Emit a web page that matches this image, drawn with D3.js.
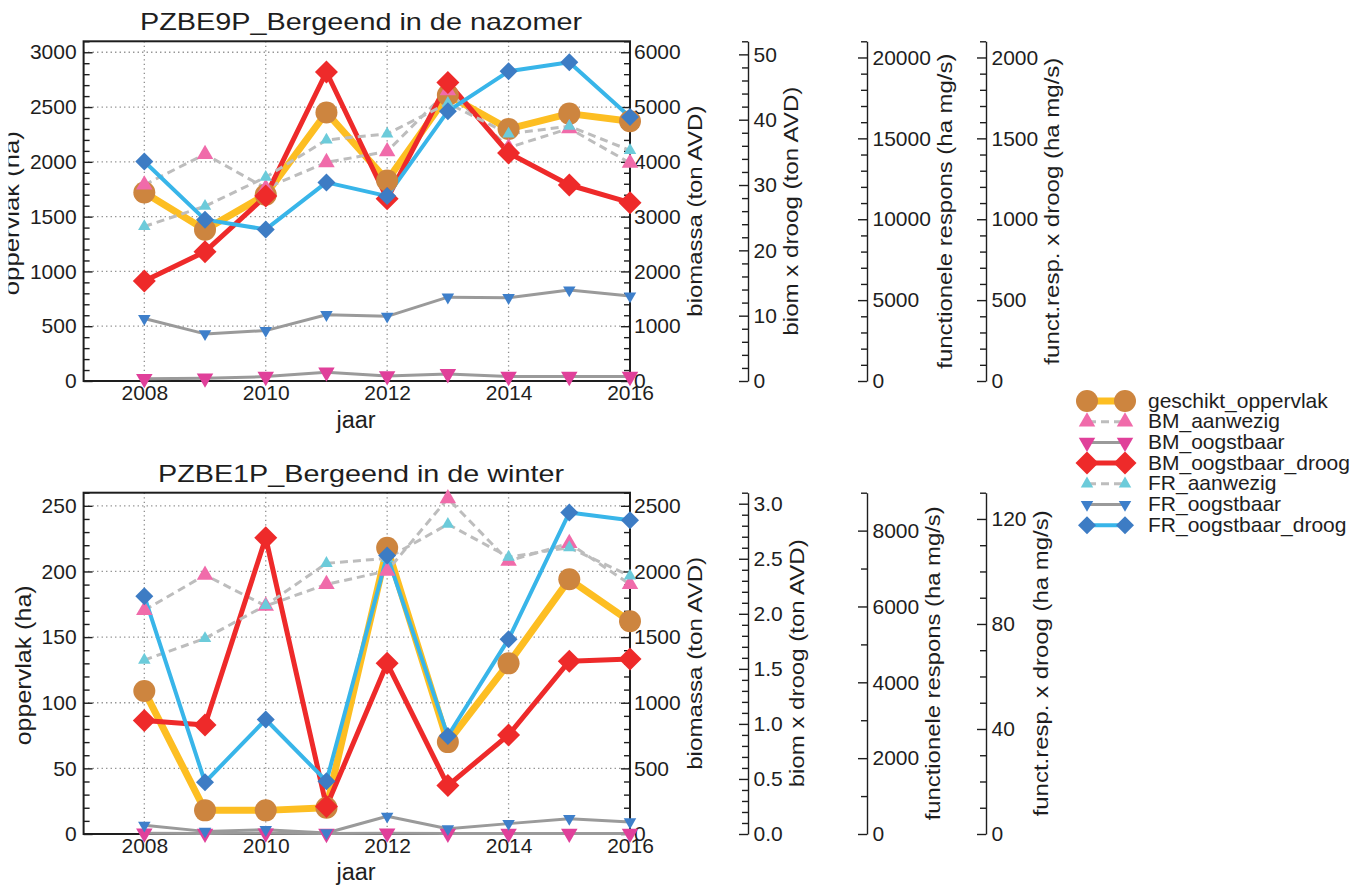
<!DOCTYPE html>
<html>
<head>
<meta charset="utf-8">
<script src="https://cdn.jsdelivr.net/npm/d3@7"></script>
<style>
  html, body { margin: 0; padding: 0; background: #ffffff; }
  svg { display: block; }
</style>
</head>
<body>
<svg id="chart" width="1363" height="888"></svg>
<script>
// ---- data ---------------------------------------------------------------
const years = [2008, 2009, 2010, 2011, 2012, 2013, 2014, 2015, 2016];
const xTicks = [2008, 2010, 2012, 2014, 2016];
const seriesNames = ["geschikt_oppervlak", "BM_aanwezig", "BM_oogstbaar", "BM_oogstbaar_droog",
                     "FR_aanwezig", "FR_oogstbaar", "FR_oogstbaar_droog"];
// which y axis each series belongs to (0 = oppervlak, 1 = biomassa, 2 = biom x droog)
const seriesAxis = [0, 1, 1, 2, 1, 1, 2];
const panelTitles = ["PZBE9P_Bergeend in de nazomer", "PZBE1P_Bergeend in de winter"];
const axisTitles = ["oppervlak (ha)", "biomassa (ton AVD)", "biom x droog (ton AVD)",
                    "functionele respons (ha mg/s)", "funct.resp. x droog (ha mg/s)"];

// nazomer (late summer)
const nazomerGeschikt     = [1720, 1380, 1700, 2450, 1830, 2610, 2300, 2440, 2370];   // ha
const nazomerBMAanwezig   = [3580, 4140, 3520, 3990, 4190, 5300, 4260, 4610, 3980];   // ton AVD
const nazomerBMOogstbaar  = [40, 50, 80, 160, 90, 130, 80, 80, 80];                    // ton AVD
const nazomerBMDroog      = [15.3, 19.8, 28.3, 47.3, 27.9, 45.7, 34.9, 30.0, 27.3];    // ton AVD x droog
const nazomerFRAanwezig   = [2820, 3190, 3720, 4400, 4510, 5070, 4510, 4650, 4210];
const nazomerFROogstbaar  = [1140, 860, 920, 1210, 1180, 1530, 1520, 1660, 1550];
const nazomerFRDroog      = [33.6, 24.7, 23.2, 30.4, 28.3, 41.3, 47.4, 48.8, 40.4];
const nazomerAxisMax      = [3100, 6200, 52, 21000, 2100];
const nazomerMajorStep    = [500, 1000, 10, 5000, 500];
const nazomerMinorStep    = [100, 200, 2, 1000, 100];
const nazomerFormats      = ["d", "d", "d", "d", "d"];

// winter
const winterGeschikt      = [109, 18, 18, 20, 218, 70, 130, 194, 162];
const winterBMAanwezig    = [1704, 1973, 1737, 1902, 2004, 2556, 2080, 2215, 1902];
const winterBMOogstbaar   = [5, 4, 5, 3, 5, 4, 4, 4, 4];
const winterBMDroog       = [1.03, 0.99, 2.69, 0.25, 1.55, 0.44, 0.90, 1.57, 1.59];
const winterFRAanwezig    = [1325, 1490, 1742, 2062, 2100, 2360, 2110, 2182, 1966];
const winterFROogstbaar   = [66, 20, 33, 8, 135, 40, 79, 117, 92];
const winterFRDroog       = [2.16, 0.47, 1.04, 0.48, 2.53, 0.89, 1.77, 2.92, 2.85];
const winterAxisMax       = [260, 2600, 3.1, 9000, 130];
const winterMajorStep     = [50, 500, 0.5, 2000, 40];
const winterMinorStep     = [10, 100, 0.1, 1000, 10];
const winterFormats       = ["d", "d", ".1f", "d", "d"];

// ---- styling ------------------------------------------------------------
const FONT = '"Liberation Sans", Arial, Helvetica, sans-serif';
const INK = "#1e1e1e";
const styles = {
  geschikt_oppervlak: { line: "#FDBE22", width: 7,   dash: null,  shape: "circle",  fill: "#CD853F", size: 11 },
  BM_aanwezig:        { line: "#BDBDBD", width: 3,   dash: "8,5", shape: "triUp",   fill: "#F06BAA", size: 16.5 },
  BM_oogstbaar:       { line: "#9A9A9A", width: 3,   dash: null,  shape: "triDown", fill: "#E0409A", size: 16.5 },
  BM_oogstbaar_droog: { line: "#EE2A2A", width: 5,   dash: null,  shape: "diamond", fill: "#EE2A2A", size: 11.5 },
  FR_aanwezig:        { line: "#BDBDBD", width: 3,   dash: "8,5", shape: "triUp",   fill: "#6CCBDA", size: 12.5 },
  FR_oogstbaar:       { line: "#9A9A9A", width: 3,   dash: null,  shape: "triDown", fill: "#3E7FCA", size: 12.5 },
  FR_oogstbaar_droog: { line: "#38B5E9", width: 4,   dash: null,  shape: "diamond", fill: "#3D7CC4", size: 9 }
};

function markerPath(st) {
  if (st.shape === "circle") return d3.symbol(d3.symbolCircle, Math.PI * st.size * st.size)();
  if (st.shape === "diamond") return d3.symbol(d3.symbolSquare, 2 * st.size * st.size)();
  return d3.symbol(d3.symbolTriangle, Math.sqrt(3) / 4 * st.size * st.size)();
}
function markerRot(st) {
  return st.shape === "diamond" ? 45 : (st.shape === "triDown" ? 180 : 0);
}

// ---- layout ---------------------------------------------------------------
const X0 = 83.6, X1 = 630;
const extraAxisX = [748, 867, 986];
const x = d3.scaleLinear().domain([2007, 2016]).range([X0, X1]);

const panels = [
  {
    title: panelTitles[0], top: 41.3, bottom: 381, titleBase: 30, titleLen: 442, jaarBase: 428,
    series: [nazomerGeschikt, nazomerBMAanwezig, nazomerBMOogstbaar, nazomerBMDroog,
             nazomerFRAanwezig, nazomerFROogstbaar, nazomerFRDroog],
    max: nazomerAxisMax, major: nazomerMajorStep, minor: nazomerMinorStep, formats: nazomerFormats,
    titleLens: [164, 211, 249, 315, 307], clipLeft: true
  },
  {
    title: panelTitles[1], top: 492.7, bottom: 834, titleBase: 481.7, titleLen: 406, jaarBase: 880,
    series: [winterGeschikt, winterBMAanwezig, winterBMOogstbaar, winterBMDroog,
             winterFRAanwezig, winterFROogstbaar, winterFRDroog],
    max: winterAxisMax, major: winterMajorStep, minor: winterMinorStep, formats: winterFormats,
    titleLens: [160, 213, 248, 314, 306], clipLeft: false
  }
];

const svg = d3.select("#chart");
svg.append("defs").append("clipPath").attr("id", "leftEdge")
  .append("rect").attr("x", 8.5).attr("y", 0).attr("width", 1400).attr("height", 900);

function tickList(max, step) {
  const n = Math.floor(max / step + 1e-6);
  return d3.range(0, n + 1).map(i => +(i * step).toFixed(6));
}
function minorList(max, step, major) {
  return tickList(max, step).filter(v => Math.abs(v / major - Math.round(v / major)) > 1e-6);
}
function styleAxis(sel, w) {
  sel.attr("font-size", 21).attr("font-family", FONT).attr("color", INK);
  sel.selectAll("line").attr("stroke-width", w);
  sel.selectAll("path.domain").attr("stroke-width", w);
}
// horizontal extent of an axis' tick labels, in page coordinates
function labelExtent(axisG, originX) {
  const boxes = axisG.selectAll("text").nodes().map(n => n.getBBox());
  return [originX + d3.min(boxes, b => b.x), originX + d3.max(boxes, b => b.x + b.width)];
}

panels.forEach(p => {
  const g = svg.append("g");
  const scales = p.max.map(m => d3.scaleLinear().domain([0, m]).range([p.bottom, p.top]));
  const yL = scales[0];
  const midY = (p.top + p.bottom) / 2;

  // dotted grid
  const grid = g.append("g").attr("stroke", "#8c8c8c").attr("stroke-width", 1.3)
    .attr("stroke-dasharray", "1.3,3.2");
  grid.selectAll("line.h").data(tickList(p.max[0], p.major[0]).filter(v => v > 0)).join("line")
    .attr("class", "h").attr("x1", X0).attr("x2", X1)
    .attr("y1", d => yL(d)).attr("y2", d => yL(d));
  grid.selectAll("line.v").data(xTicks).join("line")
    .attr("class", "v").attr("x1", d => x(d)).attr("x2", d => x(d))
    .attr("y1", p.top).attr("y2", p.bottom);

  // frame
  g.append("rect").attr("x", X0).attr("y", p.top).attr("width", X1 - X0).attr("height", p.bottom - p.top)
    .attr("fill", "none").attr("stroke", INK).attr("stroke-width", 2);

  // left axis (ticks point inward)
  const leftG = g.append("g").attr("transform", `translate(${X0},0)`)
    .call(d3.axisLeft(yL).tickValues(tickList(p.max[0], p.major[0])).tickSizeInner(-9).tickSizeOuter(0)
      .tickPadding(7).tickFormat(d3.format(p.formats[0])));
  leftG.select(".domain").remove();
  styleAxis(leftG, 1.4);
  const leftMinor = g.append("g").attr("transform", `translate(${X0},0)`)
    .call(d3.axisLeft(yL).tickValues(minorList(p.max[0], p.minor[0], p.major[0])).tickSizeInner(-6)
      .tickSizeOuter(0).tickFormat(""));
  leftMinor.select(".domain").remove();
  styleAxis(leftMinor, 1.4);

  // right axis of the frame: biomassa
  const yR = scales[1];
  const rightG = g.append("g").attr("transform", `translate(${X1},0)`)
    .call(d3.axisRight(yR).tickValues(tickList(p.max[1], p.major[1])).tickSizeInner(-9).tickSizeOuter(0)
      .tickPadding(4).tickFormat(d3.format(p.formats[1])));
  rightG.select(".domain").remove();
  styleAxis(rightG, 1.4);
  const rightMinor = g.append("g").attr("transform", `translate(${X1},0)`)
    .call(d3.axisRight(yR).tickValues(minorList(p.max[1], p.minor[1], p.major[1])).tickSizeInner(-6)
      .tickSizeOuter(0).tickFormat(""));
  rightMinor.select(".domain").remove();
  styleAxis(rightMinor, 1.4);

  // bottom year labels
  const xG = g.append("g").attr("transform", `translate(0,${p.bottom})`)
    .call(d3.axisBottom(x).tickValues(xTicks).tickSize(0).tickPadding(4.5).tickFormat(d3.format("d")));
  xG.select(".domain").remove();
  styleAxis(xG, 0);

  // extra stand-alone axes
  const axisGroups = [{ g: rightG, x: X1 }];
  [2, 3, 4].forEach((k, j) => {
    const ax = extraAxisX[j];
    const a = g.append("g").attr("transform", `translate(${ax},0)`)
      .call(d3.axisRight(scales[k]).tickValues(tickList(p.max[k], p.major[k])).tickSizeInner(-9)
        .tickSizeOuter(0).tickPadding(5.5).tickFormat(d3.format(p.formats[k])));
    styleAxis(a, 1.4);
    const m = g.append("g").attr("transform", `translate(${ax},0)`)
      .call(d3.axisRight(scales[k]).tickValues(minorList(p.max[k], p.minor[k], p.major[k])).tickSizeInner(-6)
        .tickSizeOuter(0).tickFormat(""));
    m.select(".domain").remove();
    styleAxis(m, 1.4);
    axisGroups.push({ g: a, x: ax });
  });

  // axis titles (the clip sits on a wrapper group so it works in page coordinates)
  const leftEdge = labelExtent(leftG, X0)[0];
  const ltWrap = g.append("g");
  if (p.clipLeft) ltWrap.attr("clip-path", "url(#leftEdge)");
  ltWrap.append("text")
    .attr("transform", `translate(${leftEdge - 6 - 0.21 * 22},${midY + 2}) rotate(-90)`)
    .attr("text-anchor", "middle").attr("font-family", FONT).attr("font-size", 22).attr("fill", INK)
    .attr("textLength", p.titleLens[0]).attr("lengthAdjust", "spacingAndGlyphs")
    .text(axisTitles[0]);

  axisGroups.forEach((a, j) => {
    const rightEdge = labelExtent(a.g, a.x)[1];
    g.append("text")
      .attr("transform", `translate(${rightEdge + 5.5 + 0.74 * 21},${midY}) rotate(-90)`)
      .attr("text-anchor", "middle").attr("font-family", FONT).attr("font-size", 21).attr("fill", INK)
      .attr("textLength", p.titleLens[j + 1]).attr("lengthAdjust", "spacingAndGlyphs")
      .text(axisTitles[j + 1]);
  });

  // panel title and x label
  g.append("text").attr("x", 361).attr("y", p.titleBase).attr("text-anchor", "middle")
    .attr("font-family", FONT).attr("font-size", 24).attr("fill", INK)
    .attr("textLength", p.titleLen).attr("lengthAdjust", "spacingAndGlyphs").text(p.title);
  g.append("text").attr("x", 356).attr("y", p.jaarBase).attr("text-anchor", "middle")
    .attr("font-family", FONT).attr("font-size", 23.5).attr("fill", INK).text("jaar");

  // series lines
  const linesG = g.append("g");
  seriesNames.forEach((name, i) => {
    const st = styles[name];
    const y = scales[seriesAxis[i]];
    const line = d3.line().x((d, k) => x(years[k])).y(d => y(d));
    linesG.append("path").datum(p.series[i]).attr("d", line)
      .attr("fill", "none").attr("stroke", st.line).attr("stroke-width", st.width)
      .attr("stroke-linejoin", "round").attr("stroke-dasharray", st.dash);
  });
  // markers
  const markG = g.append("g");
  seriesNames.forEach((name, i) => {
    const st = styles[name];
    const y = scales[seriesAxis[i]];
    markG.append("g").selectAll("path").data(p.series[i]).join("path")
      .attr("d", markerPath(st)).attr("fill", st.fill)
      .attr("transform", (d, k) => `translate(${x(years[k])},${y(d)}) rotate(${markerRot(st)})`);
  });
});

// ---- legend ---------------------------------------------------------------
const legend = svg.append("g");
seriesNames.forEach((name, i) => {
  const st = styles[name];
  const ly = 401 + i * 20.7;
  legend.append("line").attr("x1", 1088).attr("x2", 1124).attr("y1", ly).attr("y2", ly)
    .attr("stroke", st.line).attr("stroke-width", st.width).attr("stroke-dasharray", st.dash);
  [1087, 1125].forEach(mx => {
    legend.append("path").attr("d", markerPath(st)).attr("fill", st.fill)
      .attr("transform", `translate(${mx},${ly}) rotate(${markerRot(st)})`);
  });
  legend.append("text").attr("x", 1148).attr("y", ly + 6.5)
    .attr("font-family", FONT).attr("font-size", 21).attr("fill", INK).text(name);
});
</script>
</body>
</html>
